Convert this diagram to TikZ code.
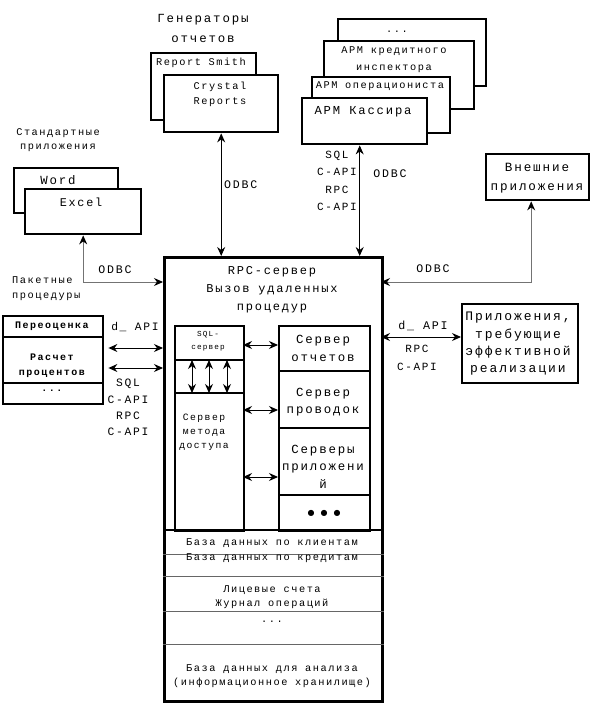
\documentclass[tikz,border=0pt]{standalone}
\usepackage{fontspec}
\setmainfont{Liberation Mono}[LetterSpace=15]
\newfontfamily\dejavu{DejaVu Sans}
\usetikzlibrary{arrows.meta,calc}
\newcommand\fsz[2]{\fontsize{#1}{#2}\selectfont}
\tikzset{
 bx/.style={draw, line width=2.4pt, fill=white, inner sep=0pt, anchor=north west},
 tx/.style={inner sep=0pt, align=center, text=black},
 thinl/.style={line width=0.8pt, draw=black!60},
 tipk/.tip={Stealth[length=9pt,width=8pt,inset=3pt,black]},
 conn/.style={line width=0.9pt, tipk-tipk},
 gconn/.style={line width=0.9pt, draw=black!55, tipk-tipk},
}
\begin{document}
\begin{tikzpicture}[x=1pt,y=-1pt]
\useasboundingbox[fill=white] (0,0) rectangle (590,703);

% ---------- report generators
\node[tx,font=\fsz{12.4}{20}] (gen) at (203,28) {Генераторы\\отчетов};
\node[bx, minimum width=105pt, minimum height=67pt] (rs) at (150,52) {};
\node[bx, minimum width=114pt, minimum height=57pt] (cr) at (163,74) {};
\node[tx,font=\fsz{10.3}{15}] (rst) at (201,63) {Report Smith};
\node[tx,font=\fsz{10.3}{15}] (crt) at (220,94.5) {Crystal\\Reports};

% ---------- standard apps
\node[tx,font=\fsz{10.3}{14}] (std) at (58,140) {Стандартные\\приложения};
\node[bx, minimum width=104pt, minimum height=45pt] (wd) at (13,167) {};
\node[bx, minimum width=116pt, minimum height=45pt] (ex) at (24,188) {};
\node[tx,font=\fsz{12.4}{15}] (wdt) at (58,180) {Word};
\node[tx,font=\fsz{11.8}{15}] (ext) at (81,202) {Excel};

% ---------- workstations
\node[bx, minimum width=148pt, minimum height=67pt] (a4) at (337,18) {};
\node[bx, minimum width=150pt, minimum height=68pt] (a3) at (323,40) {};
\node[bx, minimum width=138pt, minimum height=56pt] (a2) at (311,76) {};
\node[bx, minimum width=125pt, minimum height=46pt] (a1) at (301,97) {};
\node[tx,font=\fsz{10.3}{15}] (a4t) at (397,32) {...};
\node[tx,font=\fsz{10.3}{17}] (a3t) at (394,59.5) {АРМ кредитного\\инспектора};
\node[tx,font=\fsz{10.3}{15}] (a2t) at (380,86) {АРМ операциониста};
\node[tx,font=\fsz{12.2}{15}] (a1t) at (363,112) {АРМ Кассира};

% ---------- external apps
\node[bx, minimum width=103pt, minimum height=46pt] (extb) at (485,153) {};
\node[tx,font=\fsz{12.6}{19}] (extt) at (537,178.5) {Внешние\\приложения};

% ---------- main server
\node[bx, minimum width=218pt, minimum height=444pt, line width=2.6pt] (main) at (163,256) {};
\node[tx,font=\fsz{12}{18}] (mt) at (272,290) {RPC-сервер\\Вызов удаленных\\процедур};
\node[bx, minimum width=69pt, minimum height=205pt, line width=2pt] (lcol) at (174,325) {};
\node[bx, minimum width=91pt, minimum height=205pt] (rcol) at (278,325) {};

\coordinate (ld1) at (174,360);
\coordinate (ld2) at (174,393);
\draw[line width=1.1pt] (ld1) -- (ld1 -| lcol.east);
\draw[line width=1.1pt] (ld2) -- (ld2 -| lcol.east);
\node[tx,font=\fsz{7.7}{13}] (sqlt) at (208,341.5) {SQL-\\сервер};
\foreach \dx in {18,35,53}{
  \draw[conn] ($(ld1)+(\dx,0)$) -- ($(ld2)+(\dx,0)$);
}
\node[tx,font=\fsz{9.7}{14}] (mdt) at (204,432) {Сервер\\метода\\доступа};

\coordinate (rd1) at (278,371);
\coordinate (rd2) at (278,428);
\coordinate (rd3) at (278,495);
\foreach \c in {rd1,rd2,rd3}{
  \draw[line width=2.4pt] (\c) -- (\c -| rcol.east);
}
\node[tx,font=\fsz{12.4}{18}] (r1t) at (323,348) {Сервер\\отчетов};
\node[tx,font=\fsz{12.4}{17}] (r2t) at (323,402.5) {Сервер\\проводок};
\node[tx,font=\fsz{12.4}{17.5}] (r3t) at (323,466.5) {Серверы\\приложени\\й};
\node[tx,font=\dejavu\fsz{8}{12}] (r4t) at (324,513) {●\hspace{6pt}●\hspace{6pt}●};

\foreach \yy/\nm in {345/h1,410/h2,477/h3}{
  \coordinate (\nm) at (243,\yy);
  \draw[conn] (\nm) -- (\nm -| rcol.west);
}

% databases
\coordinate (db0) at (163,530);
\draw[line width=2.6pt] (db0) -- (db0 -| main.east);
\foreach \yy/\nm in {554/dl1,576/dl2,611/dl3,644/dl4}{
  \coordinate (\nm) at (163,\yy);
  \draw[thinl] (\nm) -- (\nm -| main.east);
}
\node[tx,font=\fsz{10.3}{14}] (db1) at (272,543) {База данных по клиентам};
\node[tx,font=\fsz{10.3}{14}] (db2) at (272,558) {База данных по кредитам};
\node[tx,font=\fsz{10.3}{14}] (db3) at (272,597) {Лицевые счета\\Журнал операций};
\node[tx,font=\fsz{10.3}{14}] (db4) at (272,622) {...};
\node[tx,font=\fsz{10.3}{14}] (db5) at (272,676) {База данных для анализа\\(информационное хранилище)};

% ---------- batch procedures
\node[tx,font=\fsz{10.3}{15},align=left,anchor=west] (pkt) at (12,288.5) {Пакетные\\процедуры};
\node[bx, minimum width=100pt, minimum height=88pt] (lp) at (2,315) {};
\coordinate (lpd1) at (2,337);
\coordinate (lpd2) at (2,383);
\draw[line width=2.4pt] (lpd1) -- (lpd1 -| lp.east);
\draw[line width=2.4pt] (lpd2) -- (lpd2 -| lp.east);
\node[tx,font=\bfseries\fsz{10}{15}] (lp1) at (52,326) {Переоценка};
\node[tx,font=\bfseries\fsz{10}{15}] (lp2) at (52,365.5) {Расчет\\процентов};
\node[tx,font=\bfseries\fsz{10}{15}] (lp3) at (52,391) {...};

\node[tx,font=\fsz{11.3}{15}] (dapl) at (135,327) {d\_ API};
\coordinate (ml1) at (163,348);
\coordinate (ml2) at (163,368);
\draw[conn] ($(lp.east |- ml1)+(4,0)$) -- (ml1);
\draw[conn] ($(lp.east |- ml2)+(4,0)$) -- (ml2);
\node[tx,font=\fsz{11.3}{16.3}] (lapi) at (128,407.5) {SQL\\C-API\\RPC\\C-API};

% ---------- efficient apps
\node[bx, minimum width=116pt, minimum height=79pt] (eff) at (461,303) {};
\node[tx,font=\fsz{13}{17.3}] (efft) at (518,344) {Приложения,\\требующие\\эффективной\\реализации};
\coordinate (mr1) at (381,337);
\draw[conn] (mr1) -- (mr1 -| eff.west);
\node[tx,font=\fsz{11.7}{15}] (dapr) at (423,326) {d\_ API};
\node[tx,font=\fsz{11}{18}] (rapi) at (417,358) {RPC\\C-API};

% ---------- top connectors
\draw[conn] (cr.south) -- (cr.south |- main.north);
\node[tx,font=\fsz{11.6}{15},anchor=west] (odbc1) at (224,185) {ODBC};

\draw[conn] ($(a1.south)+(-5,0)$) -- ($(a1.south |- main.north)+(-5,0)$);
\node[tx,font=\fsz{11}{17.3}] (aapi) at (337,181) {SQL\\C-API\\RPC\\C-API};
\node[tx,font=\fsz{11.6}{15}] (odbc2) at (390,174) {ODBC};

\coordinate (mlo) at (163,282);
\draw[gconn] (ex.south) |- (mlo);
\node[tx,font=\fsz{11.6}{15}] (odbc3) at (115,270) {ODBC};

\coordinate (mro) at (381,282);
\draw[gconn] ($(extb.south)+(-6.5,0)$) |- (mro);
\node[tx,font=\fsz{11.6}{15}] (odbc4) at (433,269) {ODBC};
\end{tikzpicture}
\end{document}
